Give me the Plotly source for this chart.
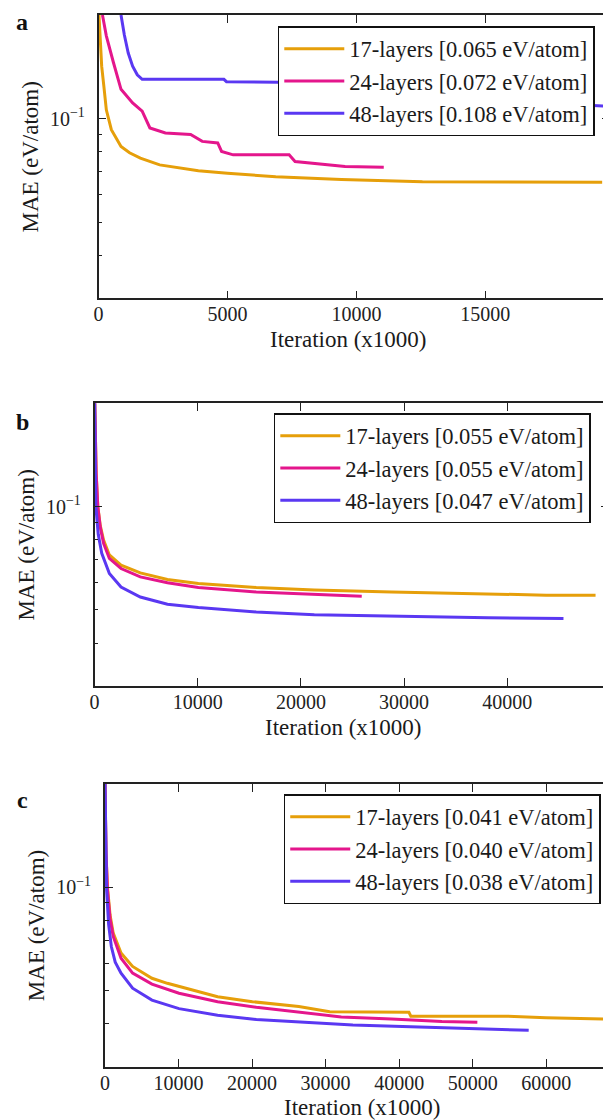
import math
import plotly.graph_objects as go

# ---------------- data (x in units of 1000 iterations, MAE in eV/atom) -------------
labels = ["17-layers", "24-layers", "48-layers"]
colors = ["#E69F0A", "#E4168C", "#5A38F2"]

# panel a
a_final = ["0.065", "0.072", "0.108"]
a17_x = [0, 60, 120, 200, 300, 495, 870, 1200, 1620, 2370, 3870, 5000, 6870, 9420, 12560, 19530]
a17_y = [0.21, 0.165, 0.142, 0.125, 0.106, 0.0928, 0.0829, 0.0795, 0.0767, 0.0733, 0.0705, 0.0693, 0.0677, 0.0665, 0.0655, 0.0653]
a24_x = [150, 300, 570, 870, 1320, 1690, 1990, 2590, 3570, 4020, 4620, 4770, 5220, 7390, 7620, 8820, 9560, 11060]
a24_y = [0.20, 0.174, 0.146, 0.1216, 0.111, 0.105, 0.0939, 0.0908, 0.0898, 0.0858, 0.0849, 0.0802, 0.0784, 0.0784, 0.075, 0.0736, 0.0725, 0.0722]
a48_x = [870, 1000, 1150, 1320, 1500, 1690, 4860, 4960, 6940, 9000, 13000, 16000, 19700]
a48_y = [0.20, 0.175, 0.155, 0.142, 0.134, 0.130, 0.130, 0.128, 0.1275, 0.125, 0.118, 0.112, 0.1087]

# panel b
b_final = ["0.055", "0.055", "0.047"]
b17_x = [0, 150, 310, 550, 870, 1430, 2560, 4430, 7060, 10060, 15670, 21300, 28790, 37780, 43780, 48570]
b17_y = [0.21, 0.125, 0.100, 0.088, 0.0799, 0.0723, 0.0675, 0.0641, 0.0613, 0.0597, 0.0581, 0.0571, 0.0564, 0.0557, 0.0552, 0.0552]
b24_x = [0, 150, 310, 550, 870, 1430, 2560, 4430, 7060, 10060, 15670, 21300, 25900]
b24_y = [0.21, 0.125, 0.100, 0.087, 0.0781, 0.0706, 0.066, 0.0624, 0.060, 0.0581, 0.0564, 0.0554, 0.0548]
b48_x = [0, 60, 120, 350, 690, 1430, 2560, 4430, 7060, 10060, 15670, 21300, 28790, 38150, 45460]
b48_y = [0.21, 0.125, 0.100, 0.083, 0.0731, 0.0638, 0.0583, 0.0545, 0.0519, 0.0508, 0.0493, 0.0484, 0.0479, 0.0474, 0.0472]

# panel c
c_final = ["0.041", "0.040", "0.038"]
c17_x = [0, 150, 350, 700, 1130, 2190, 3760, 6390, 8490, 12700, 15320, 20050, 26360, 30560, 41330, 41590, 54720, 59980, 68800]
c17_y = [0.21, 0.125, 0.100, 0.083, 0.0735, 0.0643, 0.0588, 0.0543, 0.0525, 0.0496, 0.048, 0.0464, 0.0449, 0.0434, 0.0432, 0.0421, 0.0421, 0.0417, 0.0413]
c24_x = [0, 150, 350, 700, 1130, 2190, 3760, 6390, 10070, 15320, 20580, 25830, 32130, 38960, 45800, 50630]
c24_y = [0.21, 0.125, 0.098, 0.081, 0.0719, 0.0621, 0.0562, 0.0522, 0.0491, 0.0464, 0.0447, 0.0434, 0.0419, 0.0413, 0.0406, 0.0404]
c48_x = [0, 100, 230, 500, 870, 1400, 2190, 3760, 6390, 10070, 15320, 20580, 25830, 33710, 41590, 52100, 57610]
c48_y = [0.21, 0.125, 0.098, 0.078, 0.0672, 0.0605, 0.0562, 0.0508, 0.0469, 0.0443, 0.0424, 0.0412, 0.0406, 0.0397, 0.0392, 0.0385, 0.0383]

x_ticks_a = [0, 5000, 10000, 15000]
x_ticks_b = [0, 10000, 20000, 30000, 40000]
x_ticks_c = [0, 10000, 20000, 30000, 40000, 50000, 60000]
y_major = [0.1]
y_major_text = ["10<sup>\u22121</sup>"]
y_minor = [0.04, 0.05, 0.06, 0.07, 0.08, 0.09]
y_lim = [0.03, 0.2]
panel_letters = ["a", "b", "c"]
x_title = "Iteration (x1000)"
y_title = "MAE (eV/atom)"

# ---------------- layout geometry (target-page pixels) ----------------
PAGE_W, PAGE_H = 611, 1120
OFF = 8                      # default body margin of the html page
W, H = PAGE_W - OFF, PAGE_H - OFF
FONT = "Liberation Serif"


def fx(p):
    return (p - OFF) / W


def fy(p):
    return 1 - (p - OFF) / H


panels = [
    dict(left=94.3, right=609.5, top=15.0, bottom=298.3, xmax=19815, ticks=x_ticks_a,
         series=[(a17_x, a17_y), (a24_x, a24_y), (a48_x, a48_y)], final=a_final,
         leg=(275, 26), ytitle_x=26, xtitle_x=346, letter=(17, 22), mirror_y=True),
    dict(left=90.3, right=609.0, top=403.3, bottom=686.0, xmax=49875, ticks=x_ticks_b,
         series=[(b17_x, b17_y), (b24_x, b24_y), (b48_x, b48_y)], final=b_final,
         leg=(271, 413), ytitle_x=22, xtitle_x=341, letter=(18, 422), mirror_y=True),
    dict(left=100.7, right=611.0, top=784.0, bottom=1066.7, xmax=68800, ticks=x_ticks_c,
         series=[(c17_x, c17_y), (c24_x, c24_y), (c48_x, c48_y)], final=c_final,
         leg=(281, 794), ytitle_x=32, xtitle_x=360, letter=(18, 800), mirror_y=False),
]

fig = go.Figure()
annotations = []
layout = dict(
    width=W, height=H, margin=dict(l=0, r=0, t=0, b=0),
    paper_bgcolor="white", plot_bgcolor="white",
    font=dict(family=FONT, size=20, color="#1a1a1a"),
)

for i, p in enumerate(panels):
    n = "" if i == 0 else str(i + 1)
    xa, ya = "x" + n, "y" + n
    legname = "legend" + n
    for k, (xs, ys) in enumerate(p["series"]):
        fig.add_trace(go.Scatter(
            x=xs, y=ys, mode="lines", xaxis=xa, yaxis=ya,
            line=dict(color=colors[k], width=3),
            name=f"{labels[k]} [{p['final'][k]} eV/atom]",
            legend=legname, showlegend=True,
        ))
    layout["xaxis" + n] = dict(
        domain=[fx(p["left"]), min(fx(p["right"]), 1.0)], anchor=ya,
        range=[0, p["xmax"]], tickvals=p["ticks"], ticktext=[str(t) for t in p["ticks"]],
        ticks="inside", ticklen=8,
        tickwidth=1.2, tickcolor="#222", showline=True, linecolor="#222", linewidth=1.6,
        mirror="ticks", showgrid=False, zeroline=False,
        tickfont=dict(family=FONT, size=20, color="#222"), ticklabelstandoff=-3,
    )
    layout["yaxis" + n] = dict(
        domain=[fy(p["bottom"]), fy(p["top"])], anchor=xa, type="log",
        range=[math.log10(y_lim[0]), math.log10(y_lim[1])],
        tickvals=y_major, ticktext=y_major_text, ticks="inside", ticklen=8,
        tickwidth=1.2, tickcolor="#222", showline=True, linecolor="#222", linewidth=1.6,
        mirror="ticks" if p["mirror_y"] else False, showgrid=False, zeroline=False,
        tickfont=dict(family=FONT, size=20, color="#222"), ticklabelstandoff=8,
        minor=dict(tickvals=y_minor, ticks="inside", ticklen=4, tickwidth=1.0,
                   tickcolor="#222", showgrid=False),
    )
    layout[legname] = dict(
        x=fx(p["leg"][0]), y=fy(p["leg"][1]), xanchor="left", yanchor="top",
        xref="paper", yref="paper",
        bgcolor="white", bordercolor="#111", borderwidth=1.5,
        font=dict(family=FONT, size=22.5, color="#1a1a1a"),
        itemwidth=60, tracegroupgap=0,
    )
    # axis titles and panel letters
    annotations.append(dict(
        text=x_title, xref="paper", yref="paper",
        x=fx(p["xtitle_x"]), y=fy(p["bottom"] + 41), xanchor="center", yanchor="middle",
        showarrow=False, font=dict(family=FONT, size=23, color="#1a1a1a")))
    annotations.append(dict(
        text=y_title, xref="paper", yref="paper", textangle=-90,
        x=fx(p["ytitle_x"]), y=fy((p["top"] + p["bottom"]) / 2),
        xanchor="center", yanchor="middle", showarrow=False,
        font=dict(family=FONT, size=23, color="#1a1a1a")))
    annotations.append(dict(
        text="<b>" + panel_letters[i] + "</b>", xref="paper", yref="paper",
        x=fx(p["letter"][0]), y=fy(p["letter"][1]), xanchor="center", yanchor="middle",
        showarrow=False, font=dict(family=FONT, size=24, color="#111")))

layout["annotations"] = annotations
fig.update_layout(**layout)
fig.write_html("out.html")
